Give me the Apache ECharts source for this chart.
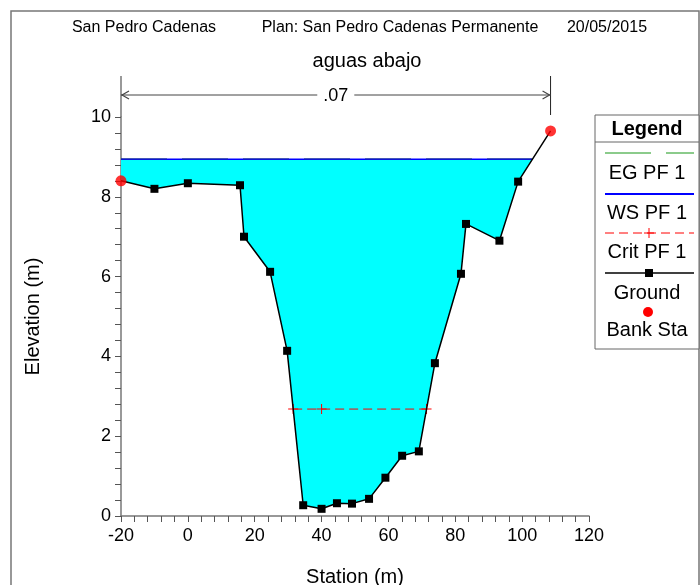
<!DOCTYPE html>
<html>
<head>
<meta charset="utf-8">
<script src="https://cdn.jsdelivr.net/npm/echarts@6/dist/echarts.min.js"></script>
<style>
  html, body { margin: 0; padding: 0; background: #fff; }
  #chart { width: 700px; height: 585px; }
</style>
</head>
<body>
<div id="chart"></div>
<script>
// Cross section "aguas abajo" – ground profile, water surface, energy grade and critical depth
const stations   = [-20, -10, 0, 15.6, 16.8, 24.6, 29.7, 34.5, 40, 44.6, 49.1, 54.2, 59.1, 64.1, 69.1, 73.9, 81.7, 83.2, 93.2, 98.8, 108.5];
const elevations = [8.40, 8.20, 8.34, 8.29, 7.00, 6.12, 4.14, 0.27, 0.18, 0.32, 0.31, 0.43, 0.96, 1.51, 1.62, 3.83, 6.07, 7.32, 6.90, 8.38, 9.65];
const bankStations = [-20, 108.5];
const wsElevation = 8.94;
const egElevation = 8.95;
const critElevation = 2.68;
const critStations = [31.5, 40, 71.4];
const manningN = ['.07'];
const manningBounds = [-20, 108.5];

const xTicks = { min: -20, max: 120, step: 20 };
const yTicks = { min: 0, max: 10, step: 2 };

const FONT = '"Liberation Sans", Arial, sans-serif';

const groundPts = stations.map((s, i) => [s, elevations[i]]);
const elevAt = s => {
  for (let i = 0; i < stations.length - 1; i++) {
    if (s >= stations[i] && s <= stations[i + 1]) {
      const t = (s - stations[i]) / (stations[i + 1] - stations[i] || 1);
      return elevations[i] + t * (elevations[i + 1] - elevations[i]);
    }
  }
  return elevations[elevations.length - 1];
};
const bankPts = bankStations.map(s => [s, elevAt(s)]);

// Wetted outline: ground below the water surface plus its edge crossings
function wettedOutline(level) {
  const pts = [];
  for (let i = 0; i < groundPts.length; i++) {
    const [s, z] = groundPts[i];
    if (i === 0 && z < level) pts.push([s, level]);
    if (i > 0) {
      const [s0, z0] = groundPts[i - 1];
      if ((z0 < level) !== (z < level)) {
        const t = (level - z0) / (z - z0);
        pts.push([s0 + t * (s - s0), level]);
      }
    }
    if (z < level) pts.push([s, z]);
    if (i === groundPts.length - 1 && z < level) pts.push([s, level]);
  }
  return pts;
}
const wetted = wettedOutline(wsElevation);
const leftEdge = wetted[0][0];
const rightEdge = wetted[wetted.length - 1][0];
const wsLine = [[leftEdge, wsElevation], [rightEdge, wsElevation]];
const egLine = [[leftEdge, egElevation], [rightEdge, egElevation]];
const critLine = critStations.map(s => [s, critElevation]);

const chart = echarts.init(document.getElementById('chart'), null, { renderer: 'canvas' });

const plusSymbol = 'path://M0,4.5H10V5.5H0ZM4.5,0H5.5V10H4.5Z';

const legendItems = [];
(function buildLegend() {
  const x0 = 595, w = 104, cx = 647;
  legendItems.push({ type: 'rect', shape: { x: x0, y: 115, width: w, height: 234 },
    style: { fill: '#fff', stroke: '#666', lineWidth: 1 } });
  legendItems.push({ type: 'line', shape: { x1: x0, y1: 142, x2: x0 + w, y2: 142 }, style: { stroke: '#666', lineWidth: 1 } });
  legendItems.push({ type: 'text', style: { x: cx, y: 129, text: 'Legend', font: 'bold 20px ' + FONT, fill: '#000', textAlign: 'center', textVerticalAlign: 'middle' } });
  const lbl = (t, y) => legendItems.push({ type: 'text', style: { x: cx, y: y, text: t, font: '20px ' + FONT, fill: '#000', textAlign: 'center', textVerticalAlign: 'middle' } });
  legendItems.push({ type: 'line', shape: { x1: 605, y1: 153, x2: 694, y2: 153 }, style: { stroke: '#66bb66', lineWidth: 1.5, lineDash: [46, 15] } });
  lbl('EG PF 1', 173);
  legendItems.push({ type: 'line', shape: { x1: 605, y1: 194, x2: 694, y2: 194 }, style: { stroke: '#0000ff', lineWidth: 2 } });
  lbl('WS PF 1', 213);
  legendItems.push({ type: 'line', shape: { x1: 605, y1: 233, x2: 694, y2: 233 }, style: { stroke: '#ff0000', lineWidth: 1, lineDash: [9, 5] } });
  legendItems.push({ type: 'line', shape: { x1: 644, y1: 233, x2: 654, y2: 233 }, style: { stroke: '#ff0000', lineWidth: 1 } });
  legendItems.push({ type: 'line', shape: { x1: 649, y1: 228, x2: 649, y2: 238 }, style: { stroke: '#ff0000', lineWidth: 1 } });
  lbl('Crit PF 1', 252);
  legendItems.push({ type: 'line', shape: { x1: 605, y1: 273, x2: 694, y2: 273 }, style: { stroke: '#000', lineWidth: 1.5 } });
  legendItems.push({ type: 'rect', shape: { x: 645, y: 269, width: 8, height: 8 }, style: { fill: '#000' } });
  lbl('Ground', 293);
  legendItems.push({ type: 'circle', shape: { cx: 648, cy: 312, r: 5 }, style: { fill: '#ff0000' } });
  lbl('Bank Sta', 330);
})();

const option = {
  animation: false,
  backgroundColor: '#fff',
  grid: { left: 121, right: 111, top: 117, bottom: 69, containLabel: false, outerBoundsMode: 'none' },
  xAxis: {
    type: 'value', min: xTicks.min, max: xTicks.max, interval: xTicks.step,
    name: 'Station (m)', nameLocation: 'middle', nameGap: 51,
    nameTextStyle: { fontFamily: FONT, fontSize: 20, color: '#000' },
    axisLine: { show: true, onZero: false, lineStyle: { color: '#777', width: 1.5 } },
    axisTick: { show: true, length: 6, lineStyle: { color: '#555' } },
    minorTick: { show: true, splitNumber: 5, length: 6, lineStyle: { color: '#555' } },
    axisLabel: { fontFamily: FONT, fontSize: 18, color: '#000', margin: 11 },
    splitLine: { show: false }
  },
  yAxis: {
    type: 'value', min: yTicks.min, max: yTicks.max, interval: yTicks.step,
    name: 'Elevation (m)', nameLocation: 'middle', nameGap: 78,
    nameTextStyle: { fontFamily: FONT, fontSize: 20, color: '#000' },
    axisLine: { show: true, onZero: false, lineStyle: { color: '#777', width: 1.5 } },
    axisTick: { show: true, length: 6, lineStyle: { color: '#555' } },
    minorTick: { show: true, splitNumber: 5, length: 6, lineStyle: { color: '#555' } },
    axisLabel: { fontFamily: FONT, fontSize: 18, color: '#000', margin: 10 },
    splitLine: { show: false }
  },
  graphic: [
    { type: 'rect', shape: { x: 11, y: 11, width: 688, height: 600 }, style: { fill: 'none', stroke: '#777', lineWidth: 1.5 }, z: -10 },
    { type: 'text', style: { x: 144, y: 28, text: 'San Pedro Cadenas', font: '16px ' + FONT, fill: '#000', textAlign: 'center', textVerticalAlign: 'middle' } },
    { type: 'text', style: { x: 400, y: 28, text: 'Plan: San Pedro Cadenas Permanente', font: '16px ' + FONT, fill: '#000', textAlign: 'center', textVerticalAlign: 'middle' } },
    { type: 'text', style: { x: 607, y: 28, text: '20/05/2015', font: '16px ' + FONT, fill: '#000', textAlign: 'center', textVerticalAlign: 'middle' } },
    { type: 'text', style: { x: 367, y: 61, text: 'aguas abajo', font: '20px ' + FONT, fill: '#000', textAlign: 'center', textVerticalAlign: 'middle' } }
  ].concat(legendItems),
  series: [
    {
      // water area between the surface and the ground
      type: 'custom', z: 1, silent: true,
      data: [[leftEdge, wsElevation]],
      renderItem: (params, api) => ({
        type: 'polygon',
        shape: { points: wetted.map(p => api.coord(p)) },
        style: { fill: '#00ffff', stroke: 'none' }
      })
    },
    {
      // Manning's n dimension line between the bank stations
      type: 'custom', z: 2, silent: true, clip: false,
      data: [[manningBounds[0], yTicks.max]],
      renderItem: (params, api) => {
        const l = api.coord([manningBounds[0], yTicks.max]);
        const r = api.coord([manningBounds[1], yTicks.max]);
        const top = l[1];
        const ay = top - 22;
        const mid = (l[0] + r[0]) / 2;
        const col = '#444';
        return {
          type: 'group',
          children: [
            { type: 'line', shape: { x1: l[0], y1: top - 41, x2: l[0], y2: top }, style: { stroke: '#777', lineWidth: 1.5 } },
            { type: 'line', shape: { x1: r[0], y1: top - 41, x2: r[0], y2: top - 2 }, style: { stroke: '#222', lineWidth: 1 } },
            { type: 'line', shape: { x1: l[0], y1: ay, x2: r[0], y2: ay }, style: { stroke: col, lineWidth: 1 } },
            { type: 'polyline', shape: { points: [[l[0] + 8, ay - 4], [l[0] + 1, ay], [l[0] + 8, ay + 4]] }, style: { stroke: col, lineWidth: 1.2, fill: 'none' } },
            { type: 'polyline', shape: { points: [[r[0] - 8, ay - 4], [r[0] - 1, ay], [r[0] - 8, ay + 4]] }, style: { stroke: col, lineWidth: 1.2, fill: 'none' } },
            { type: 'text', style: { x: mid, y: ay + 1, text: manningN[0], font: '18px ' + FONT, fill: '#000',
              textAlign: 'center', textVerticalAlign: 'middle', backgroundColor: '#fff', padding: [0, 6] } }
          ]
        };
      }
    },
    {
      name: 'WS PF 1', type: 'line', z: 3, data: wsLine, symbol: 'none',
      lineStyle: { color: '#0000ff', width: 1.5 }
    },
    {
      name: 'EG PF 1', type: 'line', z: 4, data: egLine, symbol: 'none',
      lineStyle: { color: '#1f3a8f', width: 1, type: [46, 15] }
    },
    {
      name: 'Crit PF 1', type: 'line', z: 4, data: critLine,
      symbol: plusSymbol, symbolSize: 10, itemStyle: { color: '#ff0000' },
      lineStyle: { color: '#ff0000', width: 1, type: [9, 5] }
    },
    {
      name: 'Ground', type: 'line', z: 5,
      data: groundPts.map(p => bankStations.includes(p[0]) ? { value: p, symbol: 'none' } : p),
      symbol: 'rect', symbolSize: 8, showAllSymbol: true,
      itemStyle: { color: '#000' },
      lineStyle: { color: '#000', width: 1.5 }
    },
    {
      name: 'Bank Sta', type: 'scatter', z: 6, data: bankPts,
      symbol: 'circle', symbolSize: 11, itemStyle: { color: '#ff0000' }
    }
  ]
};

chart.setOption(option);
</script>
</body>
</html>
